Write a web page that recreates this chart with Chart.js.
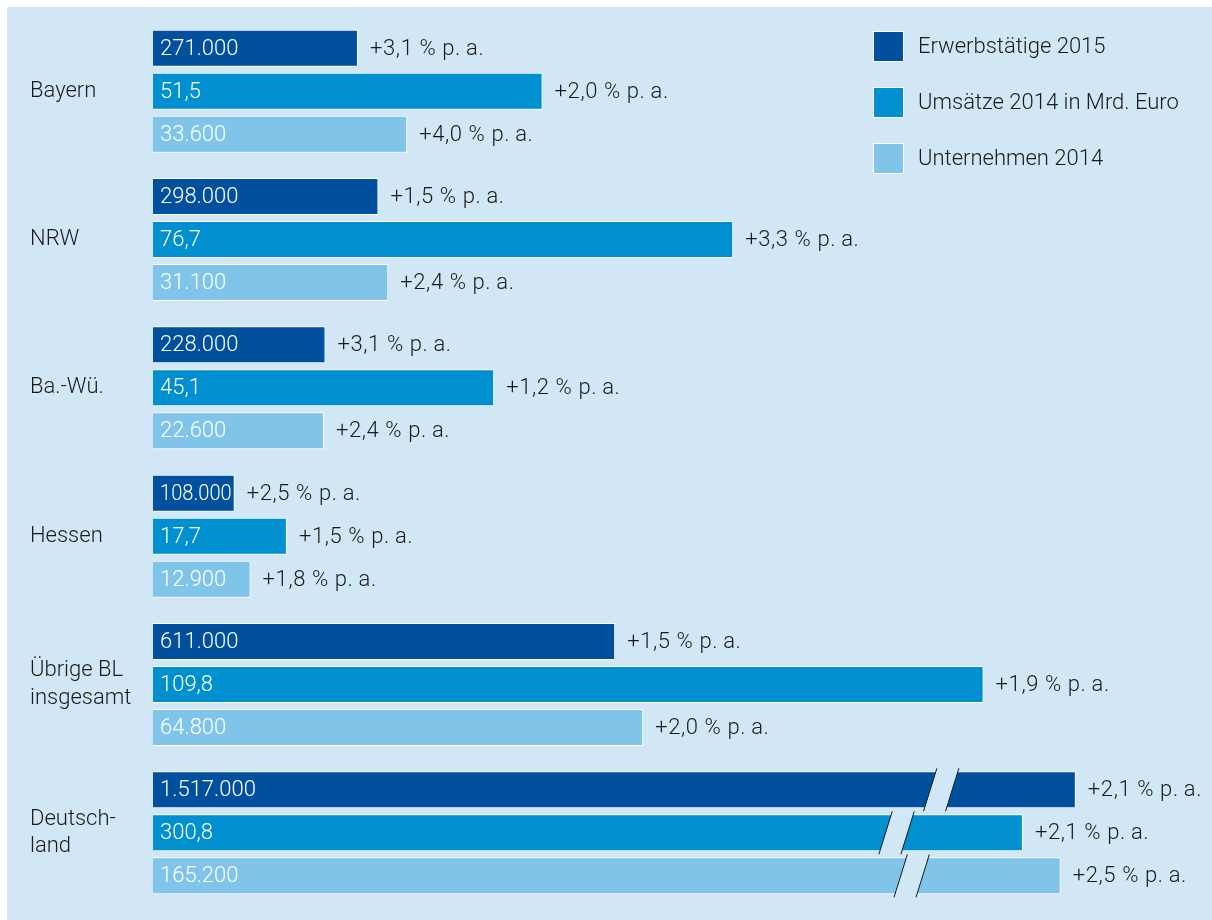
<!DOCTYPE html>
<html lang="de">
<head>
<meta charset="UTF-8">
<title>Erwerbstätige, Umsätze und Unternehmen nach Bundesländern</title>
<script src="https://cdn.jsdelivr.net/npm/chart.js"></script>
<style>
  html, body { margin: 0; padding: 0; background: #ffffff; }
  #wrap { width: 1212px; height: 920px; }
</style>
</head>
<body>
<div id="wrap"><canvas id="chart" width="1212" height="920"></canvas></div>
<script>
// Daten
const regionen = ['Bayern', 'NRW', 'Ba.-Wü.', 'Hessen', ['Übrige BL', 'insgesamt'], ['Deutsch-', 'land']];
const erwerbstaetige2015 = [271000, 298000, 228000, 108000, 611000, 1517000];
const umsaetze2014 = [51.5, 76.7, 45.1, 17.7, 109.8, 300.8];        // Mrd. Euro
const unternehmen2014 = [33600, 31100, 22600, 12900, 64800, 165200];
const wachstumErwerbstaetige = [3.1, 1.5, 3.1, 2.5, 1.5, 2.1];
const wachstumUmsaetze = [2.0, 3.3, 1.2, 1.5, 1.9, 2.1];
const wachstumUnternehmen = [4.0, 2.4, 2.4, 1.8, 2.0, 2.5];

// Darstellung: gemeinsame Achse, je Reihe eigene Einheit
const einheiten = [10000, 1, 1000];
// Deutschland-Balken sind unterbrochen dargestellt (Länge und Lage der Lücke in Achseneinheiten)
const bruch = { gekapptBei: [122, 115, 120], lueckeBei: [104.2, 98.3, 100.3] };

const BG = '#d2e7f5';
const TEXT = '#1a1a1a';
const FONT = 'Roboto, "Liberation Sans", sans-serif';

const fmtZahl = (v, dez) => {
  if (dez) return v.toFixed(1).replace('.', ',');
  return String(v).replace(/\B(?=(\d{3})+(?!\d))/g, '.');
};
const fmtWachstum = v => '+' + v.toFixed(1).replace('.', ',') + ' % p.\u2009a.';

const werte = [erwerbstaetige2015, umsaetze2014, unternehmen2014];
const wachstum = [wachstumErwerbstaetige, wachstumUmsaetze, wachstumUnternehmen];
const letzte = regionen.length - 1;

const plotDaten = (reihe, i) => reihe.map((v, k) => {
  const x = v / einheiten[i];
  return k === letzte ? Math.min(x, bruch.gekapptBei[i]) : x;
});

const hintergrund = {
  id: 'hintergrund',
  beforeDraw(chart) {
    const ctx = chart.ctx;
    ctx.save();
    ctx.fillStyle = '#ffffff';
    ctx.fillRect(0, 0, chart.width, chart.height);
    ctx.fillStyle = BG;
    ctx.fillRect(7, 7, chart.width - 7, chart.height - 7);
    ctx.restore();
  }
};

const beschriftung = {
  id: 'beschriftung',
  afterDatasetsDraw(chart) {
    const ctx = chart.ctx;
    const xs = chart.scales.x;
    ctx.save();
    // Unterbrechungen der Deutschland-Balken
    chart.data.datasets.forEach((ds, i) => {
      const bar = chart.getDatasetMeta(i).data[letzte];
      const cx = xs.getPixelForValue(bruch.lueckeBei[i]);
      const h = bar.height;
      const top = bar.y - h / 2, bot = bar.y + h / 2;
      const slant = 14 / 45;      // dx pro dy
      const halb = 11;
      const xAt = (x0, y) => x0 - (y - bar.y) * slant;
      ctx.fillStyle = BG;
      ctx.beginPath();
      ctx.moveTo(xAt(cx - halb, top), top);
      ctx.lineTo(xAt(cx + halb, top), top);
      ctx.lineTo(xAt(cx + halb, bot), bot);
      ctx.lineTo(xAt(cx - halb, bot), bot);
      ctx.closePath();
      ctx.fill();
      ctx.strokeStyle = TEXT;
      ctx.lineWidth = 1;
      [cx - halb, cx + halb].forEach(x0 => {
        ctx.beginPath();
        ctx.moveTo(xAt(x0, top - 3), top - 3);
        ctx.lineTo(xAt(x0, bot + 3), bot + 3);
        ctx.stroke();
      });
    });
    // Werte in den Balken und Wachstumsraten dahinter
    ctx.textBaseline = 'middle';
    chart.data.datasets.forEach((ds, i) => {
      chart.getDatasetMeta(i).data.forEach((bar, k) => {
        ctx.font = '300 22px ' + FONT;
        ctx.letterSpacing = '0px';
        ctx.fillStyle = '#ffffff';
        ctx.textAlign = 'left';
        const breite = bar.x - bar.base;
        ctx.fillText(fmtZahl(werte[i][k], i === 1), bar.base + 7, bar.y + 1, breite - 10);
        ctx.fillStyle = TEXT;
        ctx.letterSpacing = '0.6px';
        ctx.fillText(fmtWachstum(wachstum[i][k]), bar.x + 12, bar.y + 1);
      });
    });
    ctx.restore();
  }
};

const legende = {
  id: 'legende',
  afterDraw(chart) {
    const ctx = chart.ctx;
    ctx.save();
    ctx.font = '300 22px ' + FONT;
    ctx.textBaseline = 'middle';
    ctx.textAlign = 'left';
    chart.data.datasets.forEach((ds, i) => {
      const y = 32 + i * 56;
      ctx.fillStyle = '#ffffff';
      ctx.fillRect(873, y - 1, 31, 31);
      ctx.fillStyle = ds.backgroundColor;
      ctx.fillRect(874, y, 29, 29);
      ctx.fillStyle = TEXT;
      ctx.fillText(ds.label, 918, y + 15);
    });
    ctx.restore();
  }
};

const farben = ['#00509e', '#0090d0', '#80c5e9'];
const namen = ['Erwerbstätige 2015', 'Umsätze 2014 in Mrd. Euro', 'Unternehmen 2014'];

new Chart(document.getElementById('chart'), {
  type: 'bar',
  data: {
    labels: regionen,
    datasets: werte.map((reihe, i) => ({
      label: namen[i],
      data: plotDaten(reihe, i),
      backgroundColor: farben[i],
      borderColor: '#ffffff',
      borderWidth: 1,
      categoryPercentage: 0.87,
      barPercentage: 0.86
    }))
  },
  options: {
    indexAxis: 'y',
    responsive: false,
    animation: false,
    layout: { padding: { left: 30, top: 17, bottom: 13, right: 0 } },
    scales: {
      x: { display: false, min: 0, max: 140 },
      y: {
        grid: { display: false },
        border: { display: false },
        ticks: {
          crossAlign: 'far',
          color: TEXT,
          font: { family: FONT, size: 22, weight: '300', lineHeight: 1.23 }
        },
        afterFit(scale) {
          scale.width = 123;
          scale.paddingTop = 0;
          scale.paddingBottom = 0;
        }
      }
    },
    plugins: {
      legend: { display: false },
      tooltip: { enabled: false }
    }
  },
  plugins: [hintergrund, beschriftung, legende]
});
</script>
</body>
</html>
